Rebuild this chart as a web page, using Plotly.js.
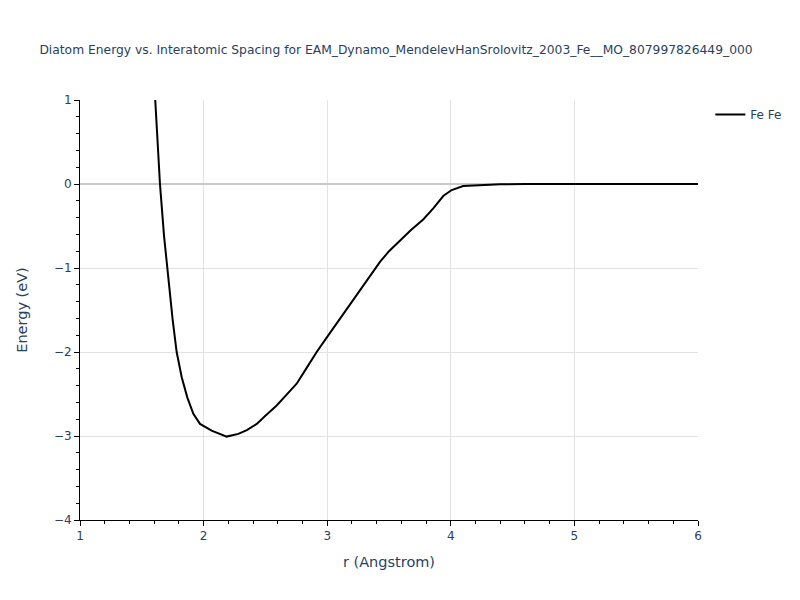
<!DOCTYPE html>
<html>
<head>
<meta charset="utf-8">
<script src="https://cdn.plot.ly/plotly-3.0.1.min.js"></script>
<style>html,body{margin:0;padding:0;background:#fff;}</style>
</head>
<body>
<div id="chart" style="width:800px;height:600px;"></div>
<script>
const seriesName = "Fe Fe";
const rValues = [1.58, 1.607, 1.647, 1.68, 1.723, 1.75, 1.782, 1.823, 1.868, 1.917, 1.971, 2.065, 2.187, 2.281, 2.35, 2.43, 2.5, 2.591, 2.67, 2.753, 2.83, 2.915, 3.0, 3.06, 3.13, 3.21, 3.292, 3.36, 3.427, 3.5, 3.589, 3.68, 3.777, 3.858, 3.939, 4.007, 4.10, 4.25, 4.4, 4.6, 5.0, 5.5, 6.0];
const energyValues = [1.75, 1.0, 0.0, -0.62, -1.265, -1.62, -2.0, -2.30, -2.54, -2.736, -2.856, -2.936, -3.007, -2.975, -2.93, -2.856, -2.76, -2.637, -2.51, -2.378, -2.198, -2.0, -1.82, -1.693, -1.543, -1.375, -1.205, -1.065, -0.927, -0.80, -0.668, -0.545, -0.422, -0.29, -0.143, -0.072, -0.024, -0.012, -0.004, -0.001, 0, 0, 0];
const titleText = "Diatom Energy vs. Interatomic Spacing for EAM_Dynamo_MendelevHanSrolovitz_2003_Fe__MO_807997826449_000";
const xTitle = "r (Angstrom)";
const yTitle = "Energy (eV)";

const trace = {
  x: rValues, y: energyValues, type: 'scatter', mode: 'lines', name: seriesName,
  line: {color: 'black', width: 2}
};
const axisCommon = {
  showline: true, linecolor: 'black', linewidth: 1,
  ticks: 'outside', ticklen: 5, tickcolor: 'black',
  showgrid: true, gridcolor: '#e2e2e2', gridwidth: 1,
  zeroline: false,
  minor: {ticks: 'outside', ticklen: 3, tickcolor: 'black', dtick: 0.2, showgrid: false},
  tickfont: {color: '#2a3f5f', size: 12}
};
const layout = {
  width: 800, height: 600,
  margin: {l: 80, r: 102, t: 100, b: 80},
  paper_bgcolor: 'white', plot_bgcolor: 'white',
  font: {family: '"DejaVu Sans", verdana, sans-serif', color: '#2a3f5f'},
  title: {text: titleText, font: {size: 12.3, color: '#2a3f5f'}, x: 0.495, xanchor: 'center', y: 0.925},
  xaxis: Object.assign({}, axisCommon, {range: [1, 6], dtick: 1, title: {text: xTitle, font: {size: 14.5}, standoff: 14}}),
  yaxis: Object.assign({}, axisCommon, {range: [-4, 1], dtick: 1, zeroline: true, zerolinecolor: '#c8c8c8', zerolinewidth: 2, title: {text: yTitle, font: {size: 14.5}, standoff: 22}}),
  showlegend: true,
  legend: {x: 1.02, y: 1, xanchor: 'left', yanchor: 'top', font: {size: 12}}
};
Plotly.newPlot('chart', [trace], layout, {displayModeBar: false});
</script>
</body>
</html>
